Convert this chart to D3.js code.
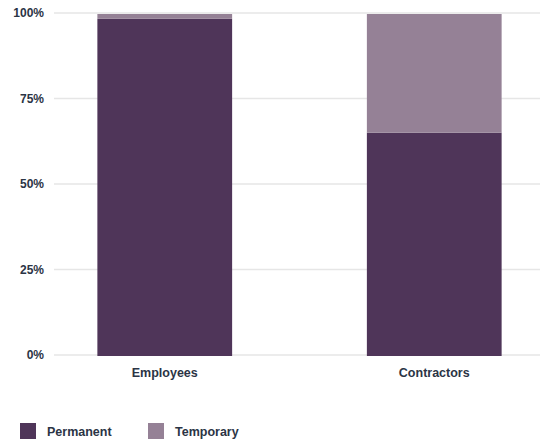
<!DOCTYPE html>
<html><head><meta charset="utf-8">
<script src="https://cdn.jsdelivr.net/npm/d3@7"></script>
<style>
html,body{margin:0;padding:0;background:#fff;}
svg{display:block;font-family:"Liberation Sans",Arial,sans-serif;}
</style></head>
<body><svg id="chart" width="540" height="441"></svg>
<script>
const categories = ["Employees", "Contractors"];
const seriesNames = ["Permanent", "Temporary"];
const permanent = [98.6, 65.3];
const temporary = [1.4, 34.7];
const yTicks = [0, 25, 50, 75, 100];
const colors = ["#4f3559", "#958196"];

const svg = d3.select("#chart");
const textColor = "#2b3445";
const x = d3.scaleBand().domain(categories).range([30, 569]).paddingInner(0.5).paddingOuter(0.25);
const y = d3.scaleLinear().domain([0, 100]).range([355, 13]);

// gridlines
svg.append("g").selectAll("line").data(yTicks).join("line")
  .attr("x1", 54).attr("x2", 540)
  .attr("y1", d => y(d)).attr("y2", d => y(d))
  .attr("stroke", "#e6e6e6").attr("stroke-width", 1.5);

// y labels
svg.append("g").selectAll("text").data(yTicks).join("text")
  .attr("x", 44).attr("y", d => y(d)).attr("dy", "0.35em")
  .attr("text-anchor", "end").attr("fill", textColor)
  .attr("font-size", 12).attr("font-weight", 600)
  .text(d => d + "%");

const rows = categories.map((c, i) => ({cat: c, Permanent: permanent[i], Temporary: temporary[i]}));
const stacked = d3.stack().keys(seriesNames)(rows);

svg.append("g").selectAll("g").data(stacked).join("g")
  .attr("fill", (d, i) => colors[i])
  .selectAll("rect").data(d => d).join("rect")
  .attr("x", d => x(d.data.cat))
  .attr("width", x.bandwidth())
  .attr("y", d => y(d[1]) + 1)
  .attr("height", d => y(d[0]) - y(d[1]));

// x labels
svg.append("g").selectAll("text").data(categories).join("text")
  .attr("x", d => x(d) + x.bandwidth() / 2).attr("y", 377)
  .attr("text-anchor", "middle").attr("fill", textColor)
  .attr("font-size", 12.5).attr("font-weight", "bold")
  .text(d => d);

// legend
const legX = [20, 148];
const leg = svg.append("g").selectAll("g").data(seriesNames).join("g")
  .attr("transform", (d, i) => `translate(${legX[i]},423)`);
leg.append("rect").attr("width", 16).attr("height", 16).attr("fill", (d, i) => colors[i]);
leg.append("text").attr("x", 27).attr("y", 13)
  .attr("fill", textColor).attr("font-size", 12.5).attr("font-weight", "bold")
  .text(d => d);
</script></body></html>
